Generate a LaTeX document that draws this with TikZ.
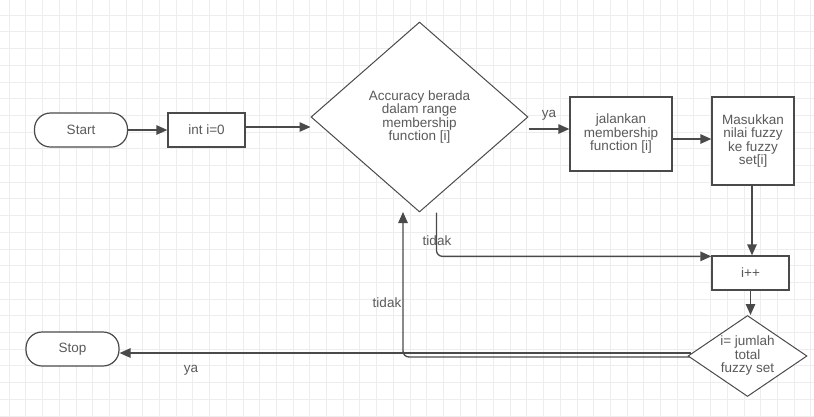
\documentclass[tikz,border=0pt]{standalone}
\usepackage{fontspec}
\setmainfont{Liberation Sans}
\usetikzlibrary{shapes.geometric,arrows.meta}
\definecolor{ln}{HTML}{4A4A4A}
\definecolor{tx}{HTML}{5A5A5A}
\begin{document}
\begin{tikzpicture}[x=1pt,y=-1pt,
  every node/.style={font=\fontsize{13.5}{13.5}\selectfont, text=tx},
  term/.style={draw=ln, line width=1.2pt, fill=white, rounded corners=16pt, minimum width=93pt, minimum height=34pt, inner sep=0pt},
  procbox/.style={draw=ln, line width=1.3pt, fill=white, inner sep=0pt, align=center},
  decision/.style={draw=ln, line width=1pt, fill=white, diamond, inner sep=0pt},
  dtext/.style={align=center, inner sep=0pt, text=tx, font=\fontsize{13.5}{13.5}\selectfont},
  arr/.style={draw=ln, line width=1.3pt, -{Triangle[length=11pt,width=9.5pt]}},
  lbl/.style={inner sep=0pt}]
\useasboundingbox (0,0) rectangle (814,416);
\fill[white] (0,0) rectangle (814,416);
% grid
\foreach \i in {0,...,48} \draw[black!7, line width=0.6pt] (9+\i*16.7,0) -- (9+\i*16.7,416);
\foreach \j in {0,...,24} \draw[black!7, line width=0.6pt] (0,15+\j*16.7) -- (814,15+\j*16.7);
% nodes
\node[term] (start) at (81,130) {Start};
\node[procbox, minimum width=77pt, minimum height=34pt] (init) at (206.5,130) {int i=0};
\node[decision, minimum width=217pt, minimum height=190pt,
      label={[dtext]center:{Accuracy berada\\dalam range\\membership\\function [i]}}] (d1) at (419.5,117) {};
\node[procbox, minimum width=102pt, minimum height=74pt] (jal) at (621,134) {jalankan\\membership\\function [i]};
\node[procbox, minimum width=82pt, minimum height=88pt] (mas) at (753,141) {Masukkan\\nilai fuzzy\\ke fuzzy\\set[i]};
\node[procbox, minimum width=77pt, minimum height=34pt] (ipp) at (750.5,273) {i++};
\node[decision, minimum width=119pt, minimum height=81pt,
      label={[dtext]center:{i= jumlah\\total\\fuzzy set}}] (d2) at (747.5,356) {};
\node[term] (stop) at (72.5,349) {Stop};
% labels
\node[lbl] (lya1) at (549,115) {ya};
\node[lbl] (ltd1) at (437,241) {tidak};
\node[lbl] (ltd2) at (387,303) {tidak};
\node[lbl] (lya2) at (191,370) {ya};
% helper coordinates
\coordinate (c1) at ([yshift=3pt]init.east);
\coordinate (c2) at ([yshift=5pt]jal.west);
\coordinate (c3) at ([yshift=2pt]mas.west);
\coordinate (t1) at ([xshift=17pt]d1.south);
\coordinate (t2) at ([yshift=-1pt]ipp.north west);
\coordinate (s1) at ([yshift=-4pt]stop.east);
\coordinate (b0) at ([xshift=2pt,yshift=-1pt]d2.west);
\coordinate (b1) at (403,212);
% connectors
\draw[arr] (start.east) -- (init.west);
\draw[arr] (c1) -- (c1 -| d1.west);
\draw[arr] (d1.east |- c2) -- (c2);
\draw[arr] (jal.east |- c3) -- (c3);
\draw[arr] ([xshift=-1pt]mas.south) -- ([xshift=-1pt]mas.south |- ipp.north);
\draw[arr, rounded corners=6pt] (t1) |- (t2);
\draw[arr] (ipp.south) -- (ipp.south |- d2.north);
\draw[arr] ([xshift=3pt]d2.west |- s1) -- (s1);
\draw[arr, rounded corners=6pt] (b0) -| (b1);
\end{tikzpicture}
\end{document}
